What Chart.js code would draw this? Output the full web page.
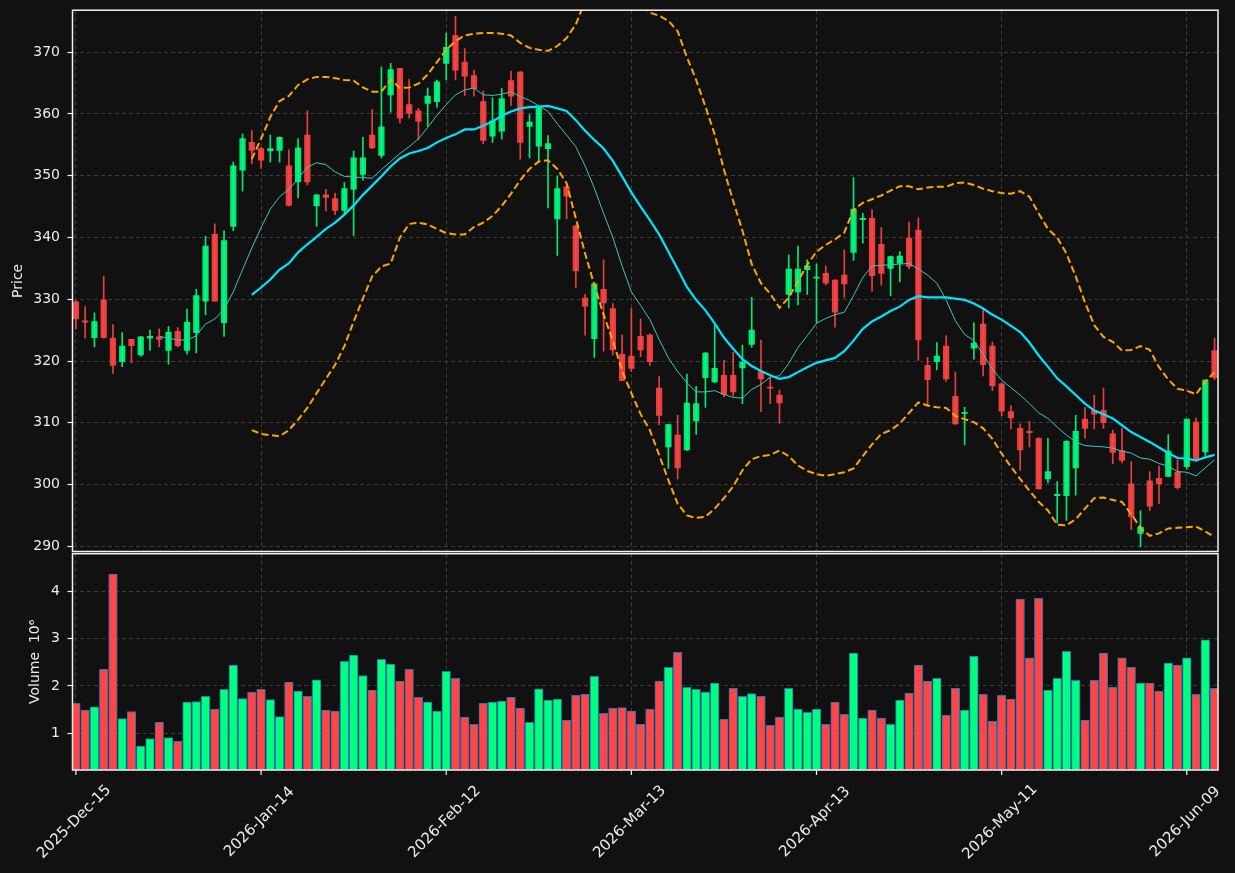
<!DOCTYPE html>
<html>
<head>
<meta charset="utf-8">
<script src="https://cdn.jsdelivr.net/npm/chart.js@4.4.1/dist/chart.umd.min.js"></script>
<style>
html,body{margin:0;padding:0;background:#111111;width:1235px;height:873px;overflow:hidden;}
#wrap{position:relative;width:1235px;height:873px;background:#111111;}
canvas{position:absolute;left:0;}
#pc{top:0;width:1235px;height:560px;}
#vc{top:540px;width:1235px;height:333px;}
</style>
</head>
<body>
<div id="wrap">
<canvas id="pc" width="1235" height="560"></canvas>
<canvas id="vc" width="1235" height="333"></canvas>
</div>
<script>
// ---------------- DATA ----------------
const dates = [
 '2025-Dec-15','2025-Dec-16','2025-Dec-17','2025-Dec-18','2025-Dec-19',
 '2025-Dec-22','2025-Dec-23','2025-Dec-24','2025-Dec-26',
 '2025-Dec-29','2025-Dec-30','2025-Dec-31','2026-Jan-02',
 '2026-Jan-05','2026-Jan-06','2026-Jan-07','2026-Jan-08','2026-Jan-09',
 '2026-Jan-12','2026-Jan-13','2026-Jan-14','2026-Jan-15','2026-Jan-16',
 '2026-Jan-20','2026-Jan-21','2026-Jan-22','2026-Jan-23',
 '2026-Jan-26','2026-Jan-27','2026-Jan-28','2026-Jan-29','2026-Jan-30',
 '2026-Feb-02','2026-Feb-03','2026-Feb-04','2026-Feb-05','2026-Feb-06',
 '2026-Feb-09','2026-Feb-10','2026-Feb-11','2026-Feb-12','2026-Feb-13',
 '2026-Feb-17','2026-Feb-18','2026-Feb-19','2026-Feb-20',
 '2026-Feb-23','2026-Feb-24','2026-Feb-25','2026-Feb-26','2026-Feb-27',
 '2026-Mar-02','2026-Mar-03','2026-Mar-04','2026-Mar-05','2026-Mar-06',
 '2026-Mar-09','2026-Mar-10','2026-Mar-11','2026-Mar-12','2026-Mar-13',
 '2026-Mar-16','2026-Mar-17','2026-Mar-18','2026-Mar-19','2026-Mar-20',
 '2026-Mar-23','2026-Mar-24','2026-Mar-25','2026-Mar-26','2026-Mar-27',
 '2026-Mar-30','2026-Mar-31','2026-Apr-01','2026-Apr-02',
 '2026-Apr-06','2026-Apr-07','2026-Apr-08','2026-Apr-09','2026-Apr-10',
 '2026-Apr-13','2026-Apr-14','2026-Apr-15','2026-Apr-16','2026-Apr-17',
 '2026-Apr-20','2026-Apr-21','2026-Apr-22','2026-Apr-23','2026-Apr-24',
 '2026-Apr-27','2026-Apr-28','2026-Apr-29','2026-Apr-30','2026-May-01',
 '2026-May-04','2026-May-05','2026-May-06','2026-May-07','2026-May-08',
 '2026-May-11','2026-May-12','2026-May-13','2026-May-14','2026-May-15',
 '2026-May-18','2026-May-19','2026-May-20','2026-May-21','2026-May-22',
 '2026-May-26','2026-May-27','2026-May-28','2026-May-29',
 '2026-Jun-01','2026-Jun-02','2026-Jun-03','2026-Jun-04','2026-Jun-05',
 '2026-Jun-08','2026-Jun-09','2026-Jun-10','2026-Jun-11','2026-Jun-12'
];

const tickLabels = ['2025-Dec-15','2026-Jan-14','2026-Feb-12','2026-Mar-13','2026-Apr-13','2026-May-11','2026-Jun-09'];
const priceTicks = [290,300,310,320,330,340,350,360,370];
const volumeTicks = [1,2,3,4];

const open = [
 329.6,326.5,323.8,329.9,323.7,319.9,323.5,321.0,323.7,323.9,
 321.7,324.8,321.7,324.6,329.7,340.5,326.2,341.8,350.9,355.4,
 354.4,354.0,354.1,351.6,349.0,356.6,345.1,346.9,346.3,344.4,
 347.8,350.2,356.6,353.3,363.1,367.4,361.5,360.5,361.7,362.0,
 368.2,372.7,368.4,366.2,362.0,356.4,357.2,365.4,366.8,358.0,
 354.8,354.4,343.0,348.2,341.9,330.2,323.6,331.6,328.5,321.1,
 320.8,324.0,324.2,315.6,306.1,308.0,305.6,310.3,317.3,316.6,
 317.7,317.7,318.9,322.7,318.3,315.8,314.5,330.8,331.2,334.8,
 333.4,334.2,333.1,333.9,337.6,342.9,343.1,338.9,335.0,335.8,
 339.9,341.2,319.3,319.9,322.4,314.3,311.5,322.1,326.0,322.4,
 316.3,311.8,309.1,308.6,307.5,300.9,298.2,298.2,302.7,310.6,
 312.0,312.0,308.2,305.5,300.1,292.1,300.6,301.0,301.3,302.0,
 302.9,310.1,305.3,321.7
];
const high = [
 329.8,328.8,327.8,333.7,325.9,324.6,323.5,324.0,325.0,325.2,
 325.6,325.4,328.4,331.6,340.2,342.2,341.1,352.2,356.8,357.3,
 354.6,356.6,356.3,354.2,356.0,360.5,346.9,347.8,347.2,348.9,
 354.0,356.2,360.7,367.6,368.2,367.4,365.6,360.9,364.2,365.5,
 373.1,375.8,370.6,367.1,363.7,362.6,364.1,366.9,366.9,359.9,
 361.2,356.5,349.9,348.3,342.0,330.8,332.7,336.4,329.3,324.2,
 328.5,326.8,324.4,317.5,309.8,311.2,317.9,315.9,321.4,325.8,
 320.1,321.4,322.6,330.3,323.4,317.3,315.3,337.2,338.6,336.4,
 335.7,335.4,333.2,338.0,349.7,343.9,344.5,341.6,337.0,337.7,
 342.5,343.2,320.6,323.0,324.1,318.2,312.5,326.2,328.4,323.1,
 316.4,312.8,309.8,310.2,307.6,307.5,300.5,307.1,311.2,312.5,
 314.5,315.6,308.8,309.1,303.7,295.8,302.1,303.0,308.1,304.0,
 310.6,310.8,316.9,323.7
];
const low = [
 325.2,323.7,322.3,323.7,318.0,319.1,319.7,320.8,321.7,322.3,
 319.5,322.3,321.1,321.3,327.5,329.7,324.0,341.1,347.5,351.9,
 351.2,352.2,352.2,345.1,346.4,348.5,341.8,344.3,343.7,343.7,
 340.3,349.3,354.4,352.9,360.3,358.5,359.3,355.8,358.0,361.1,
 365.5,365.5,363.0,362.9,355.2,355.4,355.9,361.4,352.7,352.9,
 352.1,344.8,337.1,343.0,331.9,324.2,320.6,321.6,321.0,316.8,
 318.3,320.7,319.3,309.7,302.6,300.9,305.5,308.1,312.5,316.5,
 314.2,314.3,313.1,322.2,311.8,313.1,309.9,328.6,329.1,330.8,
 326.2,332.3,325.5,330.3,336.3,339.1,331.3,332.3,330.6,332.8,
 334.9,320.1,312.7,318.6,316.7,309.7,306.4,320.3,317.6,315.2,
 311.1,309.0,302.3,306.1,299.3,300.3,293.8,294.2,298.3,307.5,
 309.0,309.1,303.4,303.5,292.7,289.9,295.8,296.9,301.3,299.2,
 302.5,303.7,304.6,317.0
];
const close = [
 326.8,326.3,326.4,323.8,319.3,322.4,322.5,323.9,324.0,323.5,
 324.7,322.5,326.3,330.6,338.6,329.7,339.5,351.6,356.0,354.1,
 352.5,354.4,356.2,345.2,354.5,349.0,346.9,346.5,344.4,347.9,
 352.9,352.9,354.5,357.9,367.2,359.3,360.1,358.8,362.9,365.2,
 370.8,367.1,366.1,364.1,355.7,358.9,362.5,362.9,355.4,358.7,
 360.9,355.2,347.9,346.7,334.6,328.9,332.5,329.4,321.8,316.8,
 318.8,321.8,319.9,311.2,309.7,302.7,313.2,313.1,321.3,318.8,
 314.6,315.0,319.8,325.0,317.1,315.6,313.2,334.9,334.9,335.4,
 333.6,332.6,327.9,332.5,344.6,343.1,333.8,334.2,336.9,337.0,
 335.3,323.4,317.0,320.8,317.1,309.8,311.7,322.9,319.4,316.0,
 311.9,310.8,305.6,308.4,299.3,302.1,298.4,307.0,308.6,309.1,
 311.4,310.0,305.2,303.9,294.8,293.1,296.5,300.1,305.4,299.5,
 310.6,304.0,316.9,317.3
];
const volumeMillions = [
 1.63,1.49,1.56,2.35,4.36,1.31,1.46,0.73,0.89,1.23,
 0.91,0.83,1.66,1.67,1.78,1.51,1.93,2.44,1.73,1.87,
 1.93,1.71,1.35,2.08,1.89,1.78,2.13,1.49,1.47,2.52,
 2.65,2.22,1.91,2.56,2.46,2.10,2.35,1.76,1.66,1.47,
 2.31,2.16,1.34,1.19,1.63,1.66,1.68,1.76,1.53,1.23,
 1.94,1.70,1.72,1.28,1.80,1.82,2.20,1.42,1.53,1.54,
 1.47,1.19,1.51,2.10,2.39,2.71,1.97,1.93,1.87,2.06,
 1.30,1.95,1.78,1.84,1.78,1.17,1.34,1.95,1.51,1.44,
 1.51,1.19,1.66,1.40,2.69,1.32,1.49,1.32,1.19,1.70,
 1.85,2.44,2.10,2.16,1.38,1.95,1.49,2.63,1.82,1.25,
 1.80,1.72,3.83,2.59,3.85,1.91,2.16,2.73,2.12,1.28,
 2.12,2.69,1.97,2.59,2.39,2.06,2.06,1.89,2.48,2.44,
 2.59,1.82,2.97,1.95
];
const ma10 = [
 null,null,null,null,null,null,null,null,null,
 324.0,323.7,323.4,323.4,324.1,326.0,326.8,328.4,331.2,334.8,
 338.3,341.6,344.6,346.6,347.8,349.5,351.4,352.1,351.8,350.6,
 349.9,349.8,349.7,349.6,351.0,352.3,353.6,354.7,356.0,357.8,
 359.8,361.5,363.1,363.9,364.2,363.1,363.0,363.2,363.6,362.8,
 362.2,361.3,360.4,358.4,356.6,354.7,351.6,348.0,343.9,340.0,
 335.4,331.2,329.0,326.7,323.5,320.5,318.3,316.5,315.0,315.0,
 315.2,314.6,314.1,314.0,315.4,316.2,317.4,317.6,319.6,322.2,
 324.1,326.1,326.9,327.5,327.9,330.6,333.5,335.4,335.5,335.6,
 335.7,335.8,334.9,333.9,332.6,329.9,326.5,324.3,323.3,321.1,
 318.7,316.9,315.7,314.5,313.1,311.6,310.7,309.3,308.0,306.9,
 306.3,306.2,306.1,305.9,305.4,305.1,304.3,304.1,303.4,303.0,
 302.1,302.0,301.4,302.7,304.0
];
const ma20 = [
 null,null,null,null,null,null,null,null,null,null,
 null,null,null,null,null,null,null,null,null,
 330.7,331.9,333.2,334.8,335.8,337.6,338.9,340.1,341.4,342.4,
 343.7,345.2,346.9,348.4,349.9,351.5,352.8,353.6,354.0,354.5,
 355.4,356.1,356.7,357.5,357.5,358.1,358.8,359.7,360.4,360.9,
 361.1,361.2,361.3,360.9,360.5,359.0,357.3,355.8,354.4,352.4,
 349.9,347.3,345.0,342.8,340.5,337.7,334.9,332.0,329.9,328.2,
 326.1,323.8,322.0,320.3,319.2,318.4,317.7,317.1,317.4,318.2,
 319.0,319.7,320.1,320.5,321.6,323.3,325.2,326.4,327.2,328.1,
 328.8,329.9,330.5,330.3,330.3,330.3,330.1,329.9,329.3,328.5,
 327.5,326.7,325.7,324.7,323.0,320.9,319.1,317.2,315.9,314.5,
 313.1,312.0,311.4,310.7,309.6,308.5,307.7,306.9,306.0,305.1,
 304.3,304.2,303.9,304.4,304.8
];
const bbUpper = [
 null,null,null,null,null,null,null,null,null,null,
 null,null,null,null,null,null,null,null,null,
 352.7,356.0,359.5,362.1,362.9,364.7,365.6,366.0,366.0,365.8,
 365.5,365.4,364.3,363.6,363.6,365.6,364.2,364.3,364.9,366.4,
 368.4,370.4,371.8,372.7,373.0,373.1,373.1,373.0,372.7,371.5,
 370.7,370.4,370.2,371.0,372.3,374.5,378.3,379.5,380.5,380.8,
 380.3,379.3,378.0,376.4,375.9,375.1,373.4,369.2,365.5,361.2,
 356.7,351.0,345.9,341.1,335.7,332.6,330.9,328.6,330.3,332.9,
 335.6,337.7,338.8,339.7,340.8,344.5,345.6,346.2,346.8,347.6,
 348.3,348.3,347.8,348.1,348.2,348.2,348.8,348.9,348.5,347.9,
 347.5,347.2,347.1,347.5,346.6,343.9,341.4,340.0,337.4,333.7,
 329.5,325.8,323.9,323.1,321.7,321.8,322.4,321.8,319.0,317.0,
 315.5,315.2,314.6,316.7,318.2
];
const bbLower = [
 null,null,null,null,null,null,null,null,null,null,
 null,null,null,null,null,null,null,null,null,
 308.8,308.2,308.0,307.8,308.8,310.5,312.4,314.8,317.1,319.4,
 322.4,326.4,330.1,333.7,335.3,335.8,340.0,342.2,342.4,342.1,
 341.4,340.7,340.5,340.5,341.7,342.4,343.5,345.1,347.1,349.3,
 351.1,352.3,352.5,351.1,348.8,343.1,337.4,332.3,327.5,323.3,
 318.4,314.8,311.4,308.8,304.8,300.7,296.9,295.0,294.6,294.8,
 296.1,297.8,299.7,302.3,304.1,304.6,304.8,305.5,304.6,303.1,
 302.2,301.7,301.4,301.7,302.0,302.6,304.6,306.5,308.2,308.8,
 309.9,311.6,313.3,312.8,312.5,312.4,311.1,310.6,310.1,309.1,
 307.4,305.0,302.9,300.9,299.0,297.2,295.8,293.5,293.4,294.4,
 296.1,297.8,297.9,297.5,297.2,295.2,293.0,291.7,292.1,292.9,
 293.0,293.1,293.2,292.4,291.5
];

// ---------------- STYLE ----------------
const FONT = '"DejaVu Sans", "Liberation Sans", sans-serif';
const TEXT = '#ececec';
const AXIS = '#f2f2f2';
const GRID = '#3d3d3d';
const UP_CANDLE = 'rgba(0,255,127,0.9)';
const DOWN_CANDLE = 'rgba(255,69,69,0.9)';
const UP_VOL = '#00ff7f';
const DOWN_VOL = '#ff4545';
const VOL_EDGE = '#1f77b4';

Chart.defaults.font.family = FONT;
Chart.defaults.font.size = 14;
Chart.defaults.color = TEXT;

const N = close.length;
const isUp = close.map((c, i) => c >= open[i]);
const candleColors = isUp.map(u => u ? UP_CANDLE : DOWN_CANDLE);
const volColors = isUp.map(u => u ? UP_VOL : DOWN_VOL);
const tickIdx = tickLabels.map(t => dates.indexOf(t));

const wickData = dates.map((d, i) => ({x: i, y: [low[i], high[i]]}));
const bodyData = dates.map((d, i) => ({x: i, y: [open[i], close[i]]}));
const volData = dates.map((d, i) => ({x: i, y: volumeMillions[i]}));
const asPoints = arr => arr.map((v, i) => ({x: i, y: v}));

const X_MIN = -0.37, X_MAX = (N - 1) + 0.37;

function xScale(h) {
  return {
    type: 'linear', min: X_MIN, max: X_MAX, offset: false,
    afterBuildTicks: s => { s.ticks = tickIdx.map(v => ({value: v})); },
    ticks: {display: false, autoSkip: false},
    grid: {color: GRID, lineWidth: 1, offset: false, drawTicks: false},
    border: {display: false, dash: [4, 3]},
    afterFit: s => { s.height = h; s.paddingLeft = 0; s.paddingRight = 0; }
  };
}
function yScale(min, max, ticks, fmt) {
  return {
    type: 'linear', position: 'left', min: min, max: max,
    afterBuildTicks: s => { s.ticks = ticks.map(v => ({value: v})); },
    ticks: {autoSkip: false, padding: 7.5, color: TEXT, font: {size: 14}, callback: fmt},
    grid: {color: GRID, lineWidth: 1, drawTicks: true, tickLength: 5, tickColor: AXIS, tickWidth: 1.2, tickBorderDash: []},
    border: {display: false, dash: [4, 3]},
    afterFit: s => { s.width = 72.5; s.paddingTop = 0; s.paddingBottom = 0; }
  };
}

function frame(id) {
  return {
    id: id,
    afterDraw(chart) {
      const {ctx, chartArea: a} = chart;
      ctx.save();
      ctx.strokeStyle = AXIS;
      ctx.lineWidth = 1.5;
      ctx.strokeRect(a.left, a.top, a.right - a.left, a.bottom - a.top);
      ctx.restore();
    }
  };
}
function yTitle(id, text, cx) {
  return {
    id: id,
    afterDraw(chart) {
      const {ctx, chartArea: a} = chart;
      ctx.save();
      ctx.translate(cx, (a.top + a.bottom) / 2);
      ctx.rotate(-Math.PI / 2);
      ctx.fillStyle = TEXT;
      ctx.font = '14px ' + FONT;
      ctx.textAlign = 'center';
      ctx.textBaseline = 'middle';
      ctx.fillText(text, 0, 0);
      ctx.restore();
    }
  };
}
const xLabels = {
  id: 'xLabels',
  afterDraw(chart) {
    const {ctx, chartArea: a, scales} = chart;
    ctx.save();
    ctx.font = '15px ' + FONT;
    ctx.fillStyle = TEXT;
    ctx.strokeStyle = AXIS;
    ctx.lineWidth = 1.2;
    tickIdx.forEach((idx, k) => {
      const px = scales.x.getPixelForValue(idx);
      ctx.beginPath();
      ctx.moveTo(px, a.bottom);
      ctx.lineTo(px, a.bottom + 5);
      ctx.stroke();
      ctx.save();
      ctx.translate(px - 1.5, a.bottom + 52);
      ctx.rotate(-Math.PI / 4);
      ctx.textAlign = 'center';
      ctx.textBaseline = 'middle';
      ctx.fillText(tickLabels[k], 0, 0);
      ctx.restore();
    });
    ctx.restore();
  }
};

const common = {
  responsive: false, animation: false, devicePixelRatio: 1,
  plugins: {legend: {display: false}, tooltip: {enabled: false}}
};

new Chart(document.getElementById('pc'), {
  type: 'bar',
  data: {
    datasets: [
      {type: 'line', data: asPoints(ma20), borderColor: '#00e5ff', borderWidth: 2.2, pointRadius: 0, order: 0, spanGaps: false},
      {type: 'line', data: asPoints(ma10), borderColor: '#3fc6bd', borderWidth: 1, pointRadius: 0, order: 0, spanGaps: false},
      {type: 'line', data: asPoints(bbUpper), borderColor: '#ffa500', borderWidth: 2, borderDash: [7, 3.5], pointRadius: 0, order: 0, spanGaps: false},
      {type: 'line', data: asPoints(bbLower), borderColor: '#ffa500', borderWidth: 2, borderDash: [7, 3.5], pointRadius: 0, order: 0, spanGaps: false},
      {type: 'bar', data: bodyData, backgroundColor: candleColors, borderWidth: 0, barThickness: 5.6, grouped: false, minBarLength: 1, order: 1},
      {type: 'bar', data: wickData, backgroundColor: candleColors, borderWidth: 0, barThickness: 1, grouped: false, order: 2}
    ]
  },
  options: Object.assign({}, common, {
    layout: {padding: {left: 0, right: 17, top: 10.2, bottom: 0}},
    scales: {
      x: xScale(8.5),
      y: yScale(289.16, 376.8, priceTicks, v => String(v))
    }
  }),
  plugins: [frame('pf'), yTitle('pt', 'Price', 18.5)]
});

new Chart(document.getElementById('vc'), {
  type: 'bar',
  data: {
    datasets: [
      {data: volData, backgroundColor: volColors, borderColor: VOL_EDGE, borderWidth: 1, borderSkipped: 'start', barThickness: 8.6, grouped: false}
    ]
  },
  options: Object.assign({}, common, {
    layout: {padding: {left: 0, right: 17, top: 13.7, bottom: 0}},
    scales: {
      x: xScale(103),
      y: yScale(0.225, 4.79, volumeTicks, v => String(v))
    }
  }),
  plugins: [frame('vf'), yTitle('vt', 'Volume  10\u2076', 35), xLabels]
});
</script>
</body>
</html>
